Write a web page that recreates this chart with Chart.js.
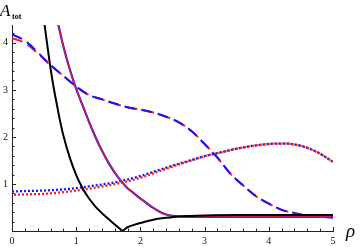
<!DOCTYPE html>
<html>
<head>
<meta charset="utf-8">
<script src="https://cdn.jsdelivr.net/npm/chart.js@4.4.0/dist/chart.umd.min.js"></script>
<style>
  html, body { margin: 0; padding: 0; background: #fff; }
  #wrap { width: 360px; height: 247px; position: relative; }
</style>
</head>
<body>
<div id="wrap"><canvas id="plot"></canvas></div>
<script>
// Data
const blackX = [0.47, 0.5, 0.55, 0.6, 0.65, 0.7, 0.75, 0.8, 0.9, 1.0, 1.1, 1.2, 1.3, 1.4, 1.5, 1.6, 1.72,
                1.8, 1.9, 2.0, 2.2, 2.4, 2.6, 2.8, 3.0, 3.5, 4.0, 4.5, 5.0];
const blackY = [4.8, 4.46, 3.95, 3.46, 3.04, 2.68, 2.33, 2.03, 1.56, 1.19, 0.91, 0.69, 0.52, 0.38, 0.26, 0.14, 0.0,
                0.08, 0.13, 0.17, 0.24, 0.28, 0.31, 0.32, 0.33, 0.34, 0.34, 0.34, 0.34];

const solidX = [0.69, 0.72, 0.8, 0.9, 1.0, 1.1, 1.2, 1.3, 1.4, 1.5, 1.6, 1.7, 1.8, 1.9, 2.0, 2.1, 2.2, 2.3,
                2.4, 2.5, 2.6, 2.8, 3.0, 3.5, 4.0, 4.5, 5.0];
const solidY = [4.6, 4.4, 3.93, 3.44, 3.02, 2.67, 2.32, 2.0, 1.71, 1.46, 1.24, 1.06, 0.91, 0.80, 0.69, 0.59, 0.49, 0.41,
                0.35, 0.32, 0.31, 0.30, 0.30, 0.30, 0.30, 0.30, 0.30];

const dashX = [0, 0.2, 0.4, 0.6, 0.8, 1.0, 1.2, 1.4, 1.6, 1.8, 2.0, 2.2, 2.4, 2.6, 2.8, 3.0, 3.2, 3.4, 3.6,
               3.8, 4.0, 4.2, 4.4, 4.6, 4.8, 5.0];
const dashBlueY = [4.18, 4.05, 3.80, 3.53, 3.30, 3.07, 2.89, 2.80, 2.71, 2.63, 2.58, 2.52, 2.43, 2.31, 2.12, 1.85,
                   1.56, 1.22, 0.97, 0.74, 0.58, 0.45, 0.38, 0.32, 0.30, 0.28];
const dashRedY = [4.10, 4.00, 3.78, 3.52, 3.30, 3.07, 2.89, 2.80, 2.71, 2.63, 2.58, 2.52, 2.43, 2.31, 2.12, 1.85,
                  1.56, 1.22, 0.97, 0.74, 0.58, 0.45, 0.38, 0.33, 0.31, 0.30];

const dotX = [0, 0.25, 0.5, 0.75, 1.0, 1.25, 1.5, 1.75, 2.0, 2.25, 2.5, 2.75, 3.0, 3.25, 3.5, 3.75, 4.0, 4.25,
              4.5, 4.75, 5.0];
const dotBlueY = [0.84, 0.85, 0.86, 0.88, 0.91, 0.96, 1.01, 1.08, 1.17, 1.28, 1.39, 1.49, 1.59, 1.67, 1.75, 1.81,
                  1.85, 1.86, 1.81, 1.68, 1.47];
const dotRedY = [0.77, 0.78, 0.79, 0.82, 0.86, 0.91, 0.97, 1.04, 1.13, 1.25, 1.37, 1.48, 1.59, 1.67, 1.75, 1.81,
                 1.85, 1.86, 1.81, 1.68, 1.47];

// Ticks
const xMajor = [0, 1, 2, 3, 4, 5];
const yMajor = [1, 2, 3, 4];
const minorStep = 0.2;

const pts = (xs, ys) => xs.map((x, i) => ({ x: x, y: ys[i] }));
const isMajor = (v, list) => list.some(m => Math.abs(m - v) < 1e-6);

// black curve has a cusp at its minimum, split it there so it stays sharp
const cusp = blackY.indexOf(Math.min(...blackY));
const blackLeft = pts(blackX.slice(0, cusp + 1), blackY.slice(0, cusp + 1));
const blackRight = pts(blackX.slice(cusp), blackY.slice(cusp));

const BLUE = '#1414ff';
const RED = '#ff1a1a';

const innerTicks = {
    id: 'innerTicks',
    afterDraw(chart) {
        const c = chart.ctx;
        const xs = chart.scales.x, ys = chart.scales.y;
        c.save();
        c.strokeStyle = '#222';
        c.lineWidth = 1;
        xs.ticks.forEach(t => {
            const px = Math.round(xs.getPixelForValue(t.value)) + 0.5;
            const len = isMajor(t.value, xMajor) ? 4 : 2.5;
            c.beginPath();
            c.moveTo(px, xs.top);
            c.lineTo(px, xs.top - len);
            c.stroke();
        });
        ys.ticks.forEach(t => {
            const py = Math.round(ys.getPixelForValue(t.value)) + 0.5;
            const len = isMajor(t.value, yMajor) ? 4 : 2.5;
            c.beginPath();
            c.moveTo(ys.right, py);
            c.lineTo(ys.right + len, py);
            c.stroke();
        });
        // axis titles
        c.fillStyle = '#000';
        c.textBaseline = 'alphabetic';
        c.font = 'italic 17px "Liberation Serif"';
        c.fillText('A', 0, 16);
        c.font = 'bold 8px "Liberation Serif"';
        c.fillText('tot', 12, 19);
        c.font = 'italic 19px "Liberation Serif"';
        c.fillText('ρ', 346, 237);
        c.restore();
    }
};

const tickFont = { family: '"Liberation Serif"', size: 10 };

new Chart(document.getElementById('plot').getContext('2d'), {
    type: 'line',
    data: {
        datasets: [
            { data: blackLeft, borderColor: '#000', borderWidth: 2, cubicInterpolationMode: 'monotone', order: 0 },
            { data: blackRight, borderColor: '#000', borderWidth: 2, cubicInterpolationMode: 'monotone', order: 0 },
            { data: pts(solidX, solidY), borderColor: RED, borderWidth: 1.1, cubicInterpolationMode: 'monotone', order: 1 },
            { data: pts(solidX, solidY), borderColor: BLUE, borderWidth: 2.2, cubicInterpolationMode: 'monotone', order: 2 },
            { data: pts(dashX, dashBlueY), borderColor: BLUE, borderWidth: 2, borderDash: [11, 6],
              cubicInterpolationMode: 'monotone', order: 3 },
            { data: pts(dashX, dashRedY), borderColor: RED, borderWidth: 2, borderDash: [11, 6],
              cubicInterpolationMode: 'monotone', order: 4 },
            { data: pts(dotX, dotRedY), borderColor: RED, borderWidth: 2.3, borderDash: [2, 2], borderDashOffset: 2,
              borderCapStyle: 'butt', cubicInterpolationMode: 'monotone', order: 5 },
            { data: pts(dotX, dotBlueY), borderColor: BLUE, borderWidth: 2.3, borderDash: [2, 2],
              borderCapStyle: 'butt', cubicInterpolationMode: 'monotone', order: 6 }
        ]
    },
    options: {
        responsive: true,
        maintainAspectRatio: false,
        animation: false,
        devicePixelRatio: 1,
        layout: { padding: { left: 0, right: 27, top: 25, bottom: 0 } },
        elements: { point: { radius: 0 } },
        scales: {
            x: {
                type: 'linear',
                min: 0,
                max: 5,
                grid: { display: false, drawTicks: false },
                border: { display: true, color: '#222', width: 1 },
                afterBuildTicks: s => {
                    s.ticks = [];
                    for (let i = 0; i <= 25; i++) s.ticks.push({ value: Math.round(i * minorStep * 10) / 10 });
                },
                afterFit: s => { s.height = 16; },
                ticks: {
                    autoSkip: false,
                    maxRotation: 0,
                    padding: 4,
                    color: '#111',
                    font: tickFont,
                    callback: v => isMajor(v, xMajor) ? String(Math.round(v)) : ''
                }
            },
            y: {
                type: 'linear',
                min: 0,
                max: 4.38,
                grid: { display: false, drawTicks: false },
                border: { display: true, color: '#222', width: 1 },
                afterBuildTicks: s => {
                    s.ticks = [];
                    for (let i = 1; i <= 21; i++) s.ticks.push({ value: Math.round(i * minorStep * 10) / 10 });
                },
                afterFit: s => { s.width = 12; },
                ticks: {
                    autoSkip: false,
                    padding: 4,
                    color: '#111',
                    font: tickFont,
                    callback: v => isMajor(v, yMajor) ? String(Math.round(v)) : ''
                }
            }
        },
        plugins: {
            legend: { display: false },
            tooltip: { enabled: false }
        }
    },
    plugins: [innerTicks]
});
</script>
</body>
</html>
